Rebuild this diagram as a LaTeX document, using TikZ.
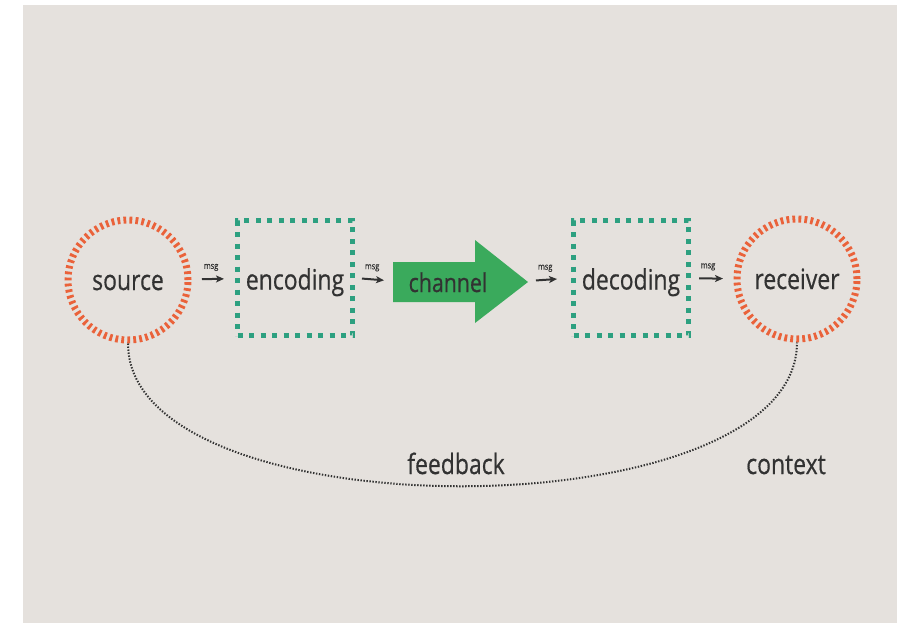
\documentclass[tikz,border=0pt]{standalone}
\usepackage{fontspec}
\setmainfont{Open Sans}
\newfontfamily\labelfont{Open Sans}[FakeBold=0.6]
\usetikzlibrary{arrows.meta}

\definecolor{paper}{RGB}{229,225,221}
\definecolor{ringred}{RGB}{234,98,58}
\definecolor{codeteal}{RGB}{45,160,128}
\definecolor{chgreen}{RGB}{58,170,92}
\definecolor{ink}{RGB}{50,50,50}

% condensed lettering used for every label
\newcommand{\tall}[1]{\scalebox{0.82}[1]{#1}}

\tikzset{
  bigtext/.style={font=\labelfont\fontsize{28}{28}\selectfont, text=ink},
  ring/.style={circle, draw=ringred, line width=7pt,
    dash pattern=on 2.8pt off 3.2pt, minimum size=120pt, inner sep=0pt,
    bigtext, text height=20pt, text depth=0pt},
  codebox/.style={rectangle, draw=codeteal, line width=5pt,
    dash pattern=on 5pt off 6.5pt, minimum width=115pt, minimum height=115pt,
    inner sep=0pt, bigtext, text height=23pt, text depth=0pt},
  msgarrow/.style={draw=ink, line width=2pt, -{Stealth[length=8pt,width=7pt,inset=2pt]}},
  msglabel/.style={font=\labelfont\fontsize{9}{9}\selectfont, text=ink, inner sep=1pt},
  fbline/.style={draw=ink, line width=2pt, dash pattern=on 1.4pt off 1.6pt},
  caption/.style={bigtext, anchor=base, inner sep=0pt}
}

\begin{document}
\begin{tikzpicture}[x=1pt, y=-1pt]
  \useasboundingbox (0,0) rectangle (907,625);
  \fill[white] (0,0) rectangle (907,625);
  \fill[paper] (23,5) rectangle (897,623);

  % sender / receiver rings and coding boxes
  \node[ring] (src) at (128,280) {\tall{source}};
  \node[codebox] (enc) at (295,278) {\tall{encoding}};
  \node[codebox] (dec) at (631,278) {\tall{decoding}};
  \node[ring] (rcv) at (797,279) {\tall{receiver}};

  % channel arrow
  \fill[chgreen] (393,262) -- (475,262) -- (475,240) -- (528,282)
    -- (475,323) -- (475,302) -- (393,302) -- cycle;
  \coordinate (chanin) at (393,281);
  \coordinate (chanout) at (528,281);
  \node[bigtext, font=\labelfont\fontsize{26}{26}\selectfont, anchor=base] (chan) at (448,292) {\tall{channel}};

  % message hand-offs
  \draw[msgarrow, shorten <=10.5pt, shorten >=11pt] (src) -- (enc)
    node[msglabel, pos=0.45, above=6pt] {\tall{msg}};
  \draw[msgarrow, shorten <=7pt, shorten >=9pt] (enc.east) -- (chanin)
    node[msglabel, pos=0.45, above=6pt] {\tall{msg}};
  \draw[msgarrow, shorten <=8pt, shorten >=14pt] (chanout) -- (dec.west)
    node[msglabel, pos=0.4, above=6pt] {\tall{msg}};
  \draw[msgarrow, shorten <=8pt, shorten >=10.5pt] (dec) -- (rcv)
    node[msglabel, pos=0.4, above=6pt] {\tall{msg}};

  % feedback loop
  \draw[fbline] (src.south) .. controls +(0,191) and +(0,191) .. (rcv.south);
  \node[caption] (fb) at (456,474) {\tall{feedback}};
  \node[caption] (ctx) at (786,474) {\tall{context}};
\end{tikzpicture}
\end{document}
